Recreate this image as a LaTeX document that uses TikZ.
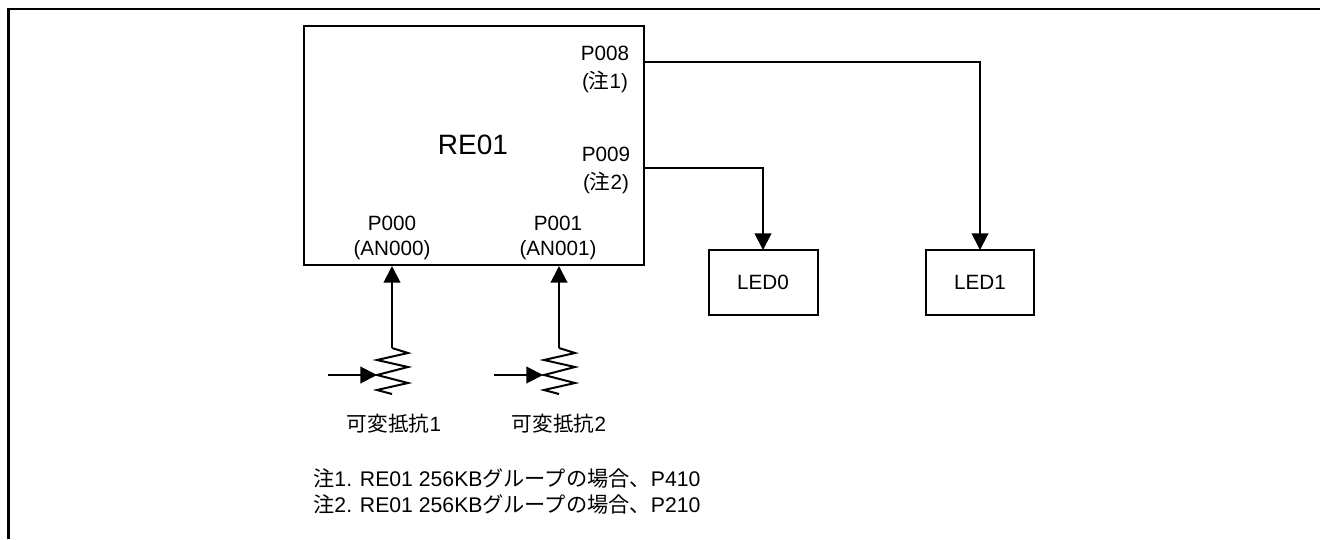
\documentclass[tikz,border=0pt]{standalone}
\usepackage{fontspec}
\setmainfont{Liberation Sans}
\newfontfamily\cjk{Noto Sans CJK JP}
\usetikzlibrary{arrows.meta}
\tikzset{
  wire/.style={line width=1.5pt,black},
  arr/.style={wire,-{Triangle[length=12.5pt,width=12.5pt]}},
  box/.style={draw,line width=1.5pt,inner sep=0pt,outer sep=0pt,anchor=north west},
  lbl/.style={font=\fontsize{15.5pt}{21pt}\selectfont,align=center,inner sep=0pt},
  lblb/.style={font=\fontsize{15.5pt}{19pt}\selectfont,align=center,inner sep=0pt},
  note/.style={font=\fontsize{15.9pt}{18pt}\selectfont,align=left,inner sep=0pt,anchor=west},
  res/.style={line width=1.5pt,line join=miter}
}
\begin{document}
\begin{tikzpicture}[x=0.75pt,y=-0.75pt]
\useasboundingbox (0,0) rectangle (1320,539);
\coordinate (fa) at (8.3,539);
\coordinate (fb) at (8.3,9);
\coordinate (fc) at (1320,9);
\draw[line width=1.9pt] (fa) -- (fb) -- (fc);
\node[box,minimum width=340*0.75pt,minimum height=239*0.75pt] (mcu) at (304,26) {};
\node[font=\fontsize{21pt}{24pt}\selectfont,inner sep=0pt] (name) at (473,145) {RE01};
\node[lbl] (p008) at (605,69) {P008\\({\cjk 注}1)};
\node[lbl] (p009) at (606,170) {P009\\({\cjk 注}2)};
\node[lblb] (p000) at (392,238) {P000\\(AN000)};
\node[lblb] (p001) at (558,238) {P001\\(AN001)};
\node[box,minimum width=109*0.75pt,minimum height=65*0.75pt] (led0) at (708.5,250) {\fontsize{15.5pt}{18pt}\selectfont LED0};
\node[box,minimum width=108*0.75pt,minimum height=65*0.75pt] (led1) at (926,250) {\fontsize{15.5pt}{18pt}\selectfont LED1};
\coordinate (a8) at (644,62);
\coordinate (a9) at (644,168);
\draw[arr] (a8) -| (led1.north);
\draw[arr] (a9) -| (led0.north);
% variable resistor 1
\coordinate (r1) at (392,348);
\coordinate (s1) at (328,375);
\coordinate (w1) at (377,375);
\draw[arr] (r1) -- (392,266);
\draw[res] (r1) -- (408,353) -- (377,360) -- (408,367) -- (377,375) -- (408,383) -- (377,390) -- (392,394);
\draw[arr] (s1) -- (w1);
% variable resistor 2
\coordinate (r2) at (559,348);
\coordinate (s2) at (494,375);
\coordinate (w2) at (543,375);
\draw[arr] (r2) -- (559,266);
\draw[res] (r2) -- (575,353) -- (544,360) -- (575,367) -- (544,375) -- (575,383) -- (544,390) -- (559,394);
\draw[arr] (s2) -- (w2);
\node[lbl] (t1) at (394,424) {{\cjk 可変抵抗}1};
\node[lbl] (t2) at (559,424) {{\cjk 可変抵抗}2};
\node[note] (n1) at (313,478) {{\cjk 注}1. RE01 256KB{\cjk グループの場合、}P410};
\node[note] (n2) at (313,504) {{\cjk 注}2. RE01 256KB{\cjk グループの場合、}P210};
\end{tikzpicture}
\end{document}
